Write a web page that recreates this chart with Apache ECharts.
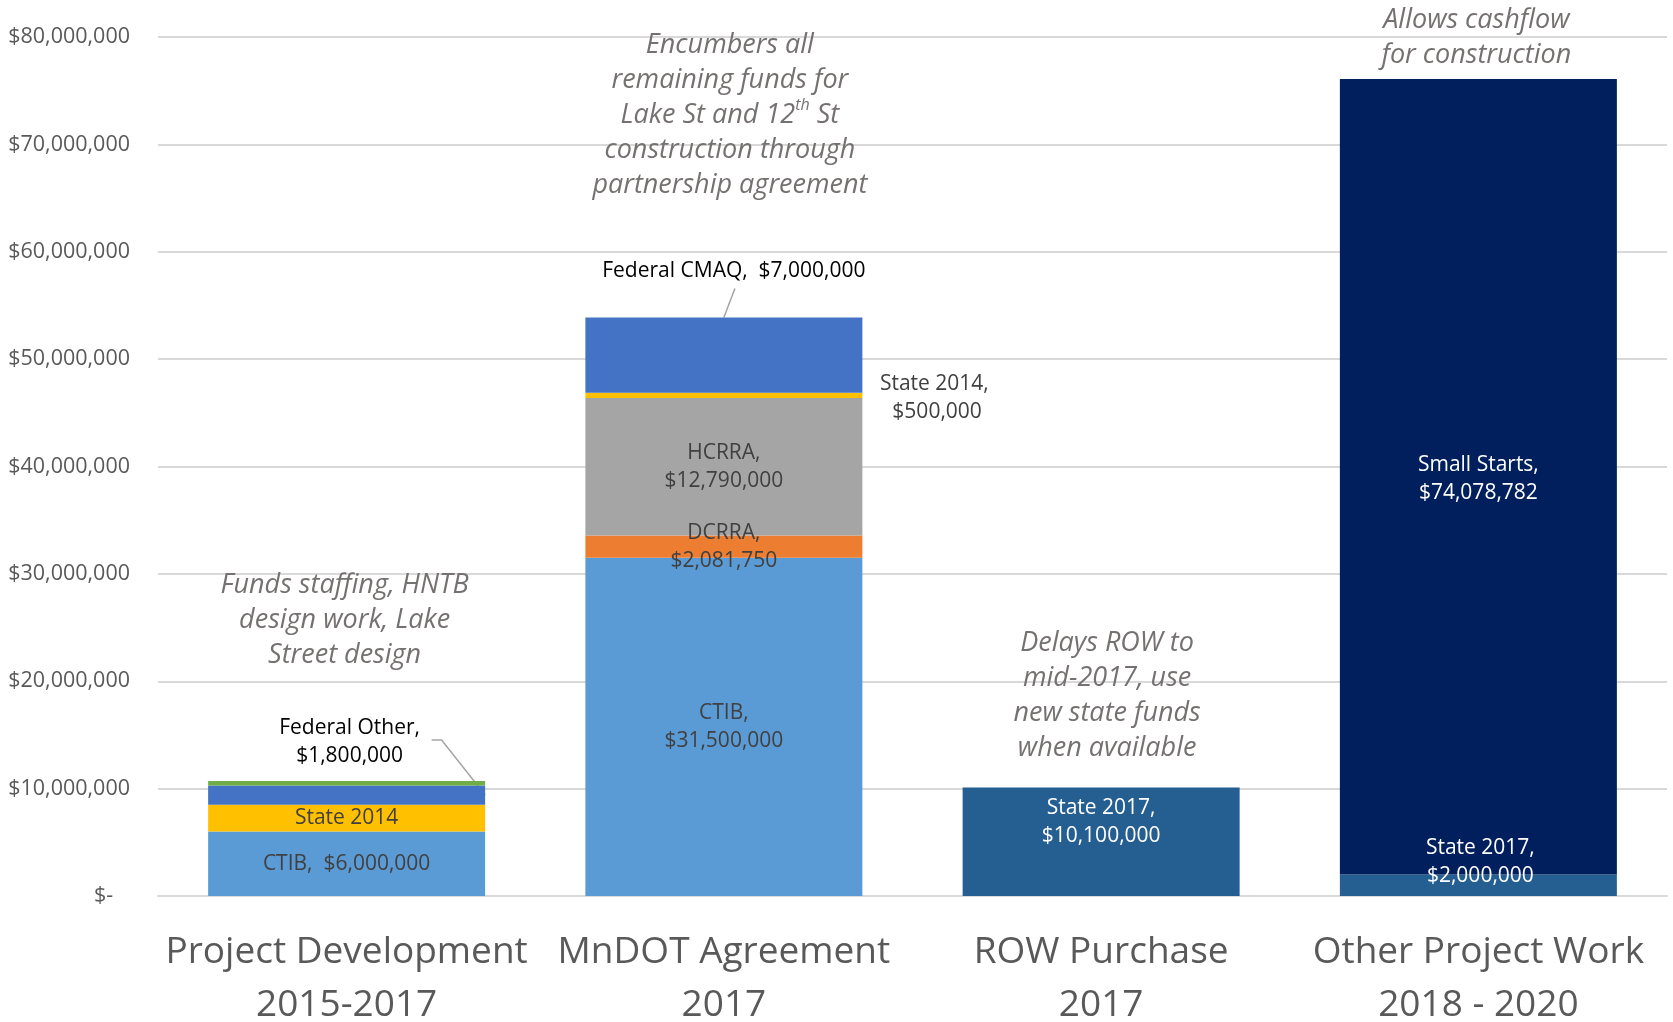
<!DOCTYPE html>
<html><head><meta charset="utf-8">
<script src="https://cdn.jsdelivr.net/npm/echarts@6/dist/echarts.min.js"></script>
<style>html,body{margin:0;padding:0;background:#fff}#c{width:1673px;height:1022px}</style>
</head><body><div id="c"></div>
<script>
// ---- data ----
const categories = ['Project Development\n2015-2017', 'MnDOT Agreement\n2017', 'ROW Purchase\n2017', 'Other Project Work\n2018 - 2020'];
const ctib = [6000000, 31500000, null, null];
const dcrra = [null, 2081750, null, null];
const hcrra = [null, 12790000, null, null];
const state2014 = [2500000, 500000, null, null];
const federal = [1800000, 7000000, null, null];
const federalGreen = [400000, null, null, null];
const state2017 = [null, null, 10100000, 2000000];
const smallStarts = [null, null, null, 74078782];
const yMax = 80000000, yStep = 10000000;

const ctibLabels = ['CTIB,  $6,000,000', 'CTIB,\n$31,500,000', '', ''];
const dcrraLabels = ['', 'DCRRA,\n$2,081,750', '', ''];
const hcrraLabels = ['', 'HCRRA,\n$12,790,000', '', ''];
const state2014Labels = ['State 2014', 'State 2014,\n $500,000', '', ''];
const federalLabels = ['Federal Other,\n$1,800,000', 'Federal CMAQ,  $7,000,000', '', ''];
const state2017Labels = ['', '', 'State 2017,\n$10,100,000', 'State 2017,\n$2,000,000'];
const smallStartsLabels = ['', '', '', 'Small Starts,\n$74,078,782'];

const notes = [
  {cat: 0, dx: -2, top: 30600000, text: 'Funds staffing, HNTB\ndesign work, Lake\nStreet design'},
  {cat: 1, dx: 6, top: 80900000, text: 'Encumbers all\nremaining funds for\nLake St and 12{sup|th} St\nconstruction through\npartnership agreement'},
  {cat: 2, dx: 6, top: 25200000, text: 'Delays ROW to\nmid-2017, use\nnew state funds\nwhen available'},
  {cat: 3, dx: -2, top: 83200000, text: 'Allows cashflow\nfor construction'}
];

// ---- chart ----
const FONT = '"Open Sans", "Noto Sans", sans-serif';
const DARK = '#404040';
function commas(v) { return String(Math.round(v)).replace(/\B(?=(\d{3})+(?!\d))/g, ','); }

function mk(name, values, color, texts, opts) {
  opts = opts || {};
  return {
    name: name, type: 'bar', stack: 'total', barWidth: 277,
    itemStyle: {color: color},
    data: values.map((v, i) => {
      const o = (opts[i] || {});
      return {
        value: v,
        label: {
          show: !!texts[i], formatter: texts[i] || '',
          position: o.position || 'inside',
          offset: o.offset || [0, 0],
          color: o.color || DARK,
          fontFamily: FONT, fontSize: 21, lineHeight: 28,
          align: 'center', verticalAlign: 'middle'
        }
      };
    })
  };
}

const chart = echarts.init(document.getElementById('c'), null, {renderer: 'canvas'});
const option = {
  animation: false,
  backgroundColor: '#ffffff',
  grid: {left: 158, right: 6, top: 37, bottom: 126, containLabel: false, outerBoundsMode: 'none'},
  xAxis: {
    type: 'category', data: categories,
    axisLine: {show: true, lineStyle: {color: '#D9D9D9', width: 2}},
    axisTick: {show: false},
    axisLabel: {color: '#595959', fontFamily: FONT, fontSize: 37, lineHeight: 53, margin: 30, interval: 0}
  },
  yAxis: {
    type: 'value', min: 0, max: yMax, interval: yStep,
    axisLine: {show: false}, axisTick: {show: false},
    splitLine: {lineStyle: {color: '#D9D9D9', width: 2}},
    axisLabel: {
      color: '#595959', fontFamily: FONT, fontSize: 21.5, margin: 28,
      formatter: v => v === 0 ? '$-   ' : '$' + commas(v)
    }
  },
  series: [
    mk('CTIB', ctib, '#5B9BD5', ctibLabels),
    mk('DCRRA', dcrra, '#ED7D31', dcrraLabels),
    mk('HCRRA', hcrra, '#A5A5A5', hcrraLabels),
    mk('State 2014', state2014, '#FFC000', state2014Labels, {1: {position: ['100%', '50%'], offset: [72, 3]}}),
    mk('Federal', federal, '#4472C4', federalLabels, {0: {offset: [3, -53], color: '#000000'}, 1: {offset: [10, -84], color: '#000000'}}),
    mk('Federal Other', federalGreen, '#70AD47', ['', '', '', '']),
    mk('State 2017', state2017, '#255E91', state2017Labels, {2: {offset: [0, -20], color: '#ffffff'}, 3: {offset: [2, -23], color: '#ffffff'}}),
    mk('Small Starts', smallStarts, '#001F5C', smallStartsLabels, {3: {offset: [0, 2], color: '#ffffff'}})
  ]
};
chart.setOption(option);

// annotations and leader lines positioned through the chart's own scales
const P = (c, v) => chart.convertToPixel({gridIndex: 0}, [c, v]);
const graphics = [];
notes.forEach(n => {
  const p = P(n.cat, n.top);
  graphics.push({
    type: 'text', x: p[0] + n.dx, y: p[1], silent: true,
    style: {
      text: n.text, align: 'center', verticalAlign: 'top',
      fontFamily: FONT, fontStyle: 'italic', fontSize: 27, lineHeight: 35, fill: '#767171',
      rich: {sup: {fontFamily: FONT, fontStyle: 'italic', fontSize: 16, verticalAlign: 'top', fill: '#767171', lineHeight: 35, padding: [0, 0, 14, 0]}}
    }
  });
});
// Federal Other leader (bar 0)
const half = 277 / 2;
const b0mid = P(0, ctib[0] + state2014[0] + federal[0] / 2);
const ly0 = b0mid[1] - 55;
graphics.push({type: 'polyline', silent: true, shape: {points: [[b0mid[0] + 85, ly0], [b0mid[0] + 95, ly0], [b0mid[0] + half, b0mid[1]]]}, style: {stroke: '#A5A5A5', lineWidth: 1.5, fill: null}});
// Federal CMAQ leader (bar 1)
const tot1 = ctib[1] + dcrra[1] + hcrra[1] + state2014[1] + federal[1];
const b1top = P(1, tot1);
graphics.push({type: 'line', silent: true, shape: {x1: b1top[0] + 11, y1: b1top[1] - 29, x2: b1top[0], y2: b1top[1]}, style: {stroke: '#A5A5A5', lineWidth: 1.5}});
chart.setOption({graphic: graphics});
</script></body></html>
